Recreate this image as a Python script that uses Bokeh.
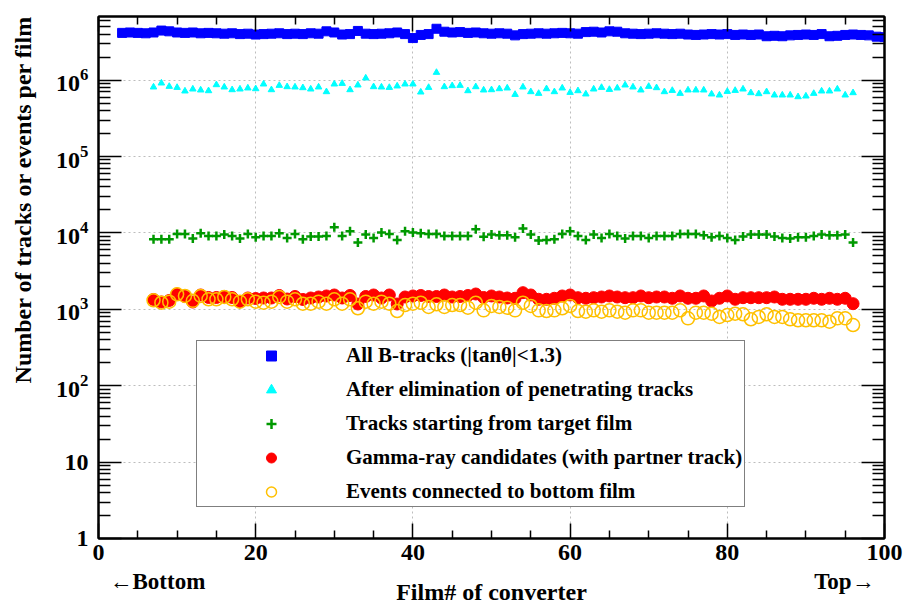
from bokeh.plotting import figure
from bokeh.models import (FixedTicker, LogTickFormatter, LinearAxis, LogAxis,
                          Legend, LegendItem, CustomJSTickFormatter, Range1d)
from bokeh.embed import file_html
from bokeh.resources import INLINE

FONT = "Liberation Serif"

# ---------------- data ----------------
films_b = list(range(3, 101))   # film numbers for "All B-tracks"
films = list(range(7, 97))      # film numbers for the other series

all_btracks = [
    4.15e6, 4.20e6, 4.15e6, 4.10e6, 4.20e6, 4.45e6, 4.35e6, 4.20e6, 4.15e6, 4.20e6,
    4.10e6, 4.15e6, 4.10e6, 4.05e6, 4.10e6, 4.00e6, 4.05e6, 3.95e6, 4.00e6, 4.05e6,
    4.10e6, 4.00e6, 4.05e6, 4.00e6, 4.10e6, 4.05e6, 4.35e6, 4.20e6, 3.95e6, 4.00e6,
    4.40e6, 4.05e6, 4.00e6, 4.05e6, 4.10e6, 4.20e6, 4.00e6, 3.55e6, 3.90e6, 4.00e6,
    4.70e6, 4.30e6, 4.20e6, 4.25e6, 4.15e6, 4.20e6, 4.10e6, 4.05e6, 4.10e6, 4.05e6,
    3.85e6, 4.00e6, 4.05e6, 4.10e6, 4.05e6, 4.10e6, 4.15e6, 4.10e6, 4.05e6, 4.25e6,
    4.30e6, 4.20e6, 4.35e6, 4.30e6, 4.10e6, 4.05e6, 4.00e6, 4.05e6, 4.10e6, 4.05e6,
    4.00e6, 4.05e6, 3.95e6, 3.90e6, 3.95e6, 4.00e6, 3.95e6, 4.00e6, 3.90e6, 3.95e6,
    3.90e6, 3.95e6, 3.75e6, 3.80e6, 3.75e6, 3.85e6, 3.90e6, 3.95e6, 3.90e6, 4.00e6,
    3.75e6, 3.80e6, 3.90e6, 3.95e6, 3.90e6, 3.85e6, 3.70e6, 3.65e6,
]

after_elim = [
    810e3, 913e3, 825e3, 800e3, 718e3, 762e3, 740e3, 724e3, 868e3, 810e3,
    746e3, 762e3, 786e3, 769e3, 886e3, 746e3, 850e3, 817e3, 810e3, 793e3,
    762e3, 810e3, 703e3, 886e3, 902e3, 746e3, 860e3, 1062e3, 817e3, 810e3,
    800e3, 835e3, 886e3, 886e3, 696e3, 800e3, 1258e3, 817e3, 842e3, 850e3,
    724e3, 817e3, 740e3, 746e3, 769e3, 786e3, 648e3, 810e3, 703e3, 668e3,
    769e3, 703e3, 786e3, 688e3, 724e3, 656e3, 762e3, 800e3, 753e3, 786e3,
    860e3, 810e3, 740e3, 825e3, 793e3, 703e3, 731e3, 668e3, 740e3, 740e3,
    740e3, 656e3, 636e3, 709e3, 731e3, 762e3, 682e3, 662e3, 703e3, 636e3,
    636e3, 636e3, 604e3, 617e3, 668e3, 718e3, 718e3, 762e3, 636e3, 682e3,
]

target_start = [
    8250, 8250, 8250, 9700, 9700, 8420, 9880, 9130, 9130, 9500,
    9130, 8420, 9700, 8760, 9130, 9130, 9880, 8600, 9700, 8250,
    8940, 8940, 9130, 11840, 9130, 10490, 7460, 9500, 8600, 10090,
    9700, 8100, 10490, 10090, 9880, 9700, 9700, 9130, 9130, 9130,
    9130, 11150, 8900, 9500, 9300, 9300, 8760, 11380, 9500, 7930,
    8100, 8250, 9700, 10490, 9130, 8100, 9500, 8600, 9700, 9130,
    8420, 9130, 9130, 8600, 9130, 9130, 9130, 9700, 9700, 9700,
    9300, 8760, 9130, 8600, 8100, 8940, 9500, 9500, 9500, 8940,
    8600, 8420, 8760, 8760, 9130, 9500, 9300, 9300, 9500, 7460,
]

gamma_cand = [
    1345, 1246, 1305, 1586, 1471, 1246, 1539, 1428, 1428, 1471,
    1428, 1265, 1406, 1385, 1406, 1406, 1516, 1364, 1471, 1345,
    1406, 1449, 1494, 1539, 1406, 1516, 1173, 1471, 1539, 1406,
    1539, 1173, 1449, 1494, 1516, 1471, 1471, 1539, 1449, 1471,
    1516, 1586, 1428, 1494, 1449, 1406, 1394, 1650, 1539, 1352,
    1352, 1394, 1494, 1539, 1419, 1394, 1419, 1449, 1494, 1449,
    1419, 1419, 1494, 1419, 1449, 1449, 1394, 1494, 1394, 1394,
    1494, 1285, 1394, 1494, 1352, 1419, 1419, 1419, 1419, 1449,
    1352, 1352, 1352, 1352, 1394, 1352, 1394, 1352, 1394, 1184,
]

bottom_conn = [
    1312, 1220, 1258, 1572, 1494, 1290, 1494, 1352, 1352, 1449,
    1352, 1258, 1352, 1258, 1220, 1258, 1449, 1258, 1352, 1184,
    1184, 1258, 1184, 1352, 1184, 1352, 1031, 1258, 1184, 1258,
    1184, 950, 1138, 1184, 1220, 1072, 1163, 1072, 1138, 1138,
    1050, 1220, 970, 1105, 1072, 1050, 970, 1220, 1105, 970,
    950, 970, 1031, 1105, 950, 930, 970, 930, 970, 930,
    903, 970, 970, 903, 903, 903, 903, 970, 762, 903,
    903, 876, 793, 842, 876, 860, 740, 793, 860, 793,
    793, 740, 718, 718, 718, 718, 688, 762, 762, 623,
]

legend_labels = [
    "All B-tracks (|tan\u03b8|<1.3)",
    "After elimination of penetrating tracks",
    "Tracks starting from target film",
    "Gamma-ray candidates (with partner track)",
    "Events connected to bottom film",
]

x_title = "Film# of converter"
y_title = "Number of tracks or events per film"
end_labels = ["\u2190Bottom", "Top\u2192"]
end_label_pos = [7.5, 94.9]

x_major = [0, 20, 40, 60, 80, 100]
x_minor = [5, 10, 15, 25, 30, 35, 45, 50, 55, 65, 70, 75, 85, 90, 95]
y_major = [1, 10, 1e2, 1e3, 1e4, 1e5, 1e6]
y_minor = [m * d for d in y_major for m in range(2, 10)]

# ---------------- figure ----------------
p = figure(width=904, height=608, x_range=Range1d(0, 100), y_range=Range1d(1, 6.8e6),
           y_axis_type="log", output_backend="svg", toolbar_location=None,
           min_border_left=98, min_border_right=20, min_border_top=16, min_border_bottom=70,
           background_fill_color="white", border_fill_color="white")

p.outline_line_color = "black"
p.outline_line_width = 2

xt = FixedTicker(ticks=x_major, minor_ticks=x_minor)
yt = FixedTicker(ticks=y_major, minor_ticks=y_minor)


def style_axis(ax, major_in, minor_in, labels=True):
    ax.axis_line_width = 2
    ax.axis_line_color = "black"
    ax.major_tick_in = major_in
    ax.major_tick_out = 0
    ax.minor_tick_in = minor_in
    ax.minor_tick_out = 0
    ax.major_tick_line_width = 1.5
    ax.minor_tick_line_width = 1.5
    ax.major_tick_line_color = "black"
    ax.minor_tick_line_color = "black"
    if labels:
        ax.major_label_text_font = FONT
        ax.major_label_text_font_style = "bold"
        ax.major_label_text_font_size = "24px"
        ax.major_label_text_color = "black"
    else:
        ax.formatter = CustomJSTickFormatter(code="return ''")
        ax.major_label_text_font_size = "0px"
        ax.major_label_standoff = 0


xax = p.xaxis[0]
xax.ticker = xt
style_axis(xax, 15, 8)
xax.major_label_standoff = 6

yax = p.yaxis[0]
yax.ticker = yt
yax.formatter = LogTickFormatter(min_exponent=1)
yax.major_label_overrides = {1: "1", 10: "10"}
style_axis(yax, 23, 12)
yax.major_label_standoff = 10
yax.axis_label_text_font = FONT
yax.axis_label_text_font_style = "bold"
yax.axis_label_text_font_size = "24px"
yax.axis_label_text_color = "black"
yax.axis_label_standoff = 17
# title sits toward the top end of the axis, as in the original
yax.axis_label = "\u00a0" * 26 + y_title

# second row under the x axis: end markers + axis title
ends_ax = LinearAxis(ticker=FixedTicker(ticks=end_label_pos))
ends_ax.formatter = CustomJSTickFormatter(
    args=dict(txt=end_labels),
    code="return tick < 50 ? txt[0] : txt[1]")
ends_ax.axis_line_color = None
ends_ax.major_tick_line_color = None
ends_ax.minor_tick_line_color = None
ends_ax.major_label_standoff = 0
ends_ax.major_label_text_font = FONT
ends_ax.major_label_text_font_style = "bold"
ends_ax.major_label_text_font_size = "23px"
ends_ax.major_label_text_color = "black"
ends_ax.axis_label = x_title
ends_ax.axis_label_standoff = -18
ends_ax.axis_label_text_font = FONT
ends_ax.axis_label_text_font_style = "bold"
ends_ax.axis_label_text_font_size = "24px"
ends_ax.axis_label_text_color = "black"
p.add_layout(ends_ax, "below")

top_ax = LinearAxis(ticker=xt)
style_axis(top_ax, 15, 8, labels=False)
p.add_layout(top_ax, "above")
right_ax = LogAxis(ticker=yt)
style_axis(right_ax, 23, 12, labels=False)
p.add_layout(right_ax, "right")

p.xgrid.ticker = FixedTicker(ticks=x_major)
p.ygrid.ticker = FixedTicker(ticks=y_major)
for g in (p.xgrid[0], p.ygrid[0]):
    g.grid_line_color = "#bdbdbd"
    g.grid_line_dash = "2 3"
    g.grid_line_width = 1

# ---------------- series ----------------
rb = p.scatter(films_b, all_btracks, marker="square", size=9,
               fill_color="#0000ff", line_color="#0000ff")
rc = p.scatter(films, after_elim, marker="triangle", size=6.5,
               fill_color="#00ffff", line_color="#00ffff")
rg = p.scatter(films, target_start, marker="cross", size=9,
               line_color="#009900", line_width=2.5)
rr = p.scatter(films, gamma_cand, marker="circle", size=12,
               fill_color="#ff0000", line_color="#ff0000")
ry = p.scatter(films, bottom_conn, marker="circle", size=13, fill_color=None,
               line_color="#ffc000", line_width=1.5)

legend = Legend(
    items=[LegendItem(label=t, renderers=[r]) for t, r in zip(legend_labels, [rb, rc, rg, rr, ry])],
    location=(98, 31), margin=0, padding=2, spacing=9,
    glyph_width=144, glyph_height=25, label_standoff=3, label_height=25,
    label_text_font=FONT, label_text_font_style="bold", label_text_font_size="21px",
    label_text_color="black", label_text_baseline="middle",
    border_line_color="black", border_line_width=1.5,
    background_fill_color="white", background_fill_alpha=1.0,
)
p.add_layout(legend)

open("out.html", "w").write(file_html(p, INLINE))
